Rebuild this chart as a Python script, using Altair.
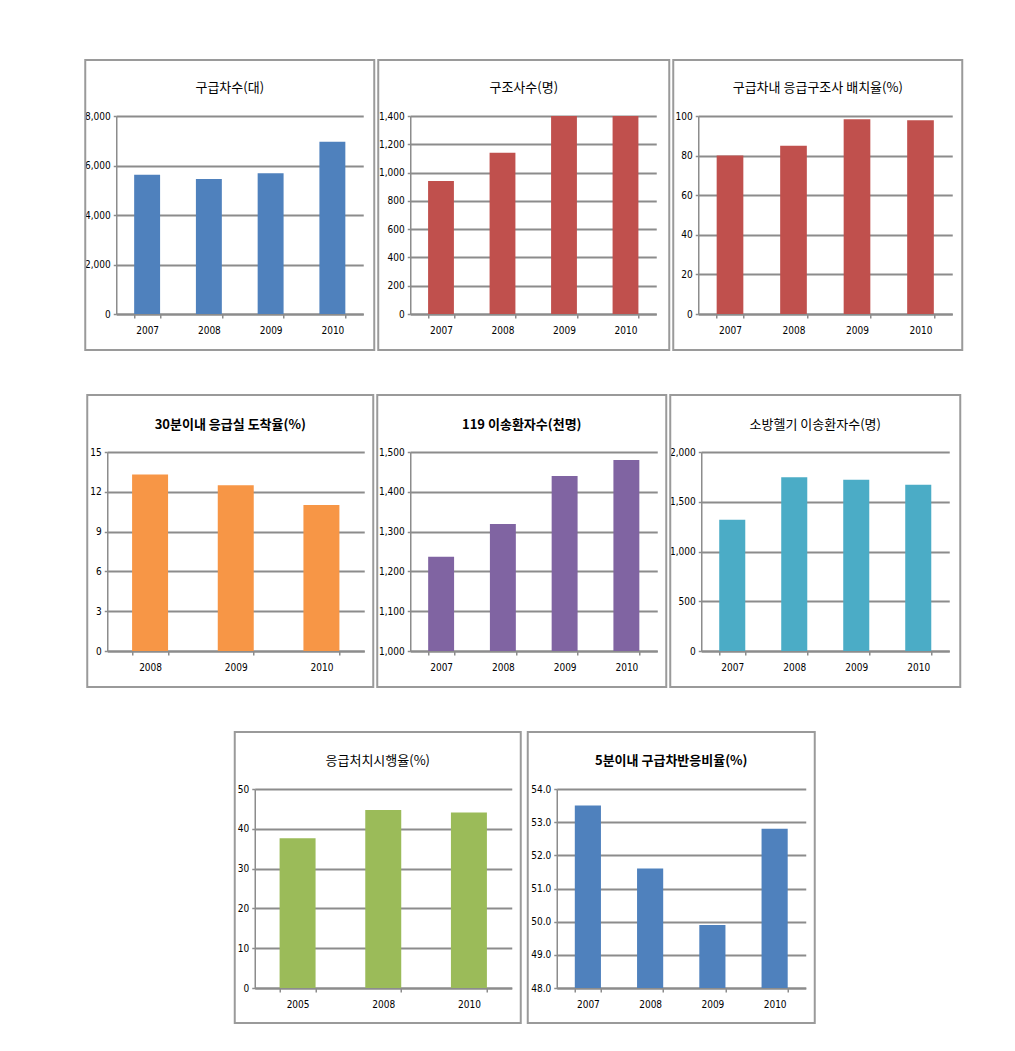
import altair as alt
import pandas as pd

LABEL_FONT = "Liberation Sans Narrow, DejaVu Sans Condensed, Roboto, sans-serif"
TITLE_FONT = "Noto Sans CJK KR"
GRID = "#8c8c8c"
FRAME = "#9a9a9a"

# ---- data -------------------------------------------------------------
years_a = ["2007", "2008", "2009", "2010"]
years_b = ["2008", "2009", "2010"]
years_c = ["2005", "2008", "2010"]

ambulances = [5630, 5450, 5690, 6960]          # 구급차수(대)
rescuers = [940, 1140, 1400, 1400]             # 구조사수(명)
ems_staff_ratio = [80.0, 85.0, 98.3, 97.8]     # 구급차내 응급구조사 배치율(%)
arrival_30min = [13.3, 12.5, 11.0]             # 30분이내 응급실 도착율(%)
transport_119 = [1237, 1319, 1440, 1480]       # 119 이송환자수(천명)
heli_transport = [1320, 1745, 1722, 1672]      # 소방헬기 이송환자수(명)
treatment_rate = [37.6, 44.7, 44.1]            # 응급처치시행율(%)
response_5min = [53.5, 51.6, 49.9, 52.8]       # 5분이내 구급차반응비율(%)

ticks_1 = [0, 2000, 4000, 6000, 8000]
ticks_2 = [0, 200, 400, 600, 800, 1000, 1200, 1400]
ticks_3 = [0, 20, 40, 60, 80, 100]
ticks_4 = [0, 3, 6, 9, 12, 15]
ticks_5 = [1000, 1100, 1200, 1300, 1400, 1500]
ticks_6 = [0, 500, 1000, 1500, 2000]
ticks_7 = [0, 10, 20, 30, 40, 50]
ticks_8 = [48, 49, 50, 51, 52, 53, 54]


def panel(title, cats, vals, ticks, fmt, color, w, h, box, title_y, bold, pad_right=0):
    left, right, top, bottom = box
    df = pd.DataFrame({"year": cats, "value": vals})
    bars = alt.Chart(df).mark_bar(color=color).encode(
        x=alt.X(
            "year:N",
            sort=cats,
            scale=alt.Scale(paddingInner=0.58, paddingOuter=0.29),
            axis=alt.Axis(
                title=None, labelAngle=0, tickBand="extent", grid=False,
                domainColor=GRID, domainWidth=2, tickColor=GRID, tickWidth=1.5,
                tickSize=4, labelPadding=7, labelFont=LABEL_FONT,
                labelFontSize=10, labelColor="#000", minExtent=0,
            ),
        ),
        y=alt.Y(
            "value:Q",
            scale=alt.Scale(domain=[ticks[0], ticks[-1]], nice=False, zero=False),
            axis=alt.Axis(
                title=None, values=ticks, format=fmt, grid=True,
                gridColor=GRID, gridWidth=2, domainColor=GRID, domainWidth=1.5,
                tickColor=GRID, tickWidth=1.5, tickSize=3, labelPadding=3,
                labelFont=LABEL_FONT, labelFontSize=10, labelColor="#000",
                minExtent=0,
            ),
        ),
        y2=alt.datum(ticks[0]),
        tooltip=["year:N", "value:Q"],
    )
    frame = alt.Chart(alt.Data(values=[{}])).mark_rect(
        fill="white", fillOpacity=0, stroke=FRAME, strokeWidth=2
    ).encode(
        x=alt.value(left), x2=alt.value(right),
        y=alt.value(top), y2=alt.value(bottom),
    )
    ttl = alt.Chart(alt.Data(values=[{}])).mark_text(
        text=title, font=TITLE_FONT, fontSize=13,
        fontWeight="bold" if bold else "normal",
        align="center", baseline="middle", color="#000",
    ).encode(x=alt.value((left + right) / 2), y=alt.value(title_y))
    layers = [frame, bars, ttl]
    if pad_right:
        # white filler on the blank page to the right (layout centring only)
        filler = alt.Chart(alt.Data(values=[{}])).mark_rect(fill="white").encode(
            x=alt.value(right + 2), x2=alt.value(right + 2 + pad_right),
            y=alt.value(top), y2=alt.value(top + 2),
        )
        layers = [filler] + layers
    return alt.layer(*layers).properties(width=w, height=h)


p1 = panel("구급차수(대)", years_a, ambulances, ticks_1, ",d", "#4F81BD",
           247, 198, (-31, 258, -56, 234), -28, False)
p2 = panel("구조사수(명)", years_a, rescuers, ticks_2, ",d", "#C0504D",
           246, 198, (-32, 259, -56, 234), -28, False)
p3 = panel("구급차내 응급구조사 배치율(%)", years_a, ems_staff_ratio, ticks_3, "d",
           "#C0504D", 254, 198, (-25, 264, -56, 234), -28, False)

p4 = panel("30분이내 응급실 도착율(%)", years_b, arrival_30min, ticks_4, "d",
           "#F79646", 257, 199, (-20, 266, -57, 235), -27, True)
p5 = panel("119 이송환자수(천명)", years_a, transport_119, ticks_5, ",d",
           "#8064A2", 247, 199, (-33, 256, -57, 235), -27, True)
p6 = panel("소방헬기 이송환자수(명)", years_a, heli_transport, ticks_6, ",d",
           "#4BACC6", 248, 199, (-31, 259, -57, 235), -27, False, pad_right=10)

p7 = panel("응급처치시행율(%)", years_c, treatment_rate, ticks_7, "d",
           "#9BBB59", 257, 199, (-20, 266, -57, 234), -28, False)
p8 = panel("5분이내 구급차반응비율(%)", years_a, response_5min, ticks_8, ".1f",
           "#4F81BD", 249, 199, (-29, 258, -57, 234), -28, True, pad_right=8)

row1 = alt.hconcat(p1, p2, p3, spacing=0)
row2 = alt.hconcat(p4, p5, p6, spacing=0)
row3 = alt.hconcat(p7, p8, spacing=3)

chart = alt.vconcat(row1, row2, row3, spacing=41, center=True).properties(
    padding={"left": 75, "top": 50, "right": 5, "bottom": 5}
).configure_view(stroke="transparent")

chart.save("out.html", embed_options={"renderer": "svg", "actions": False})
